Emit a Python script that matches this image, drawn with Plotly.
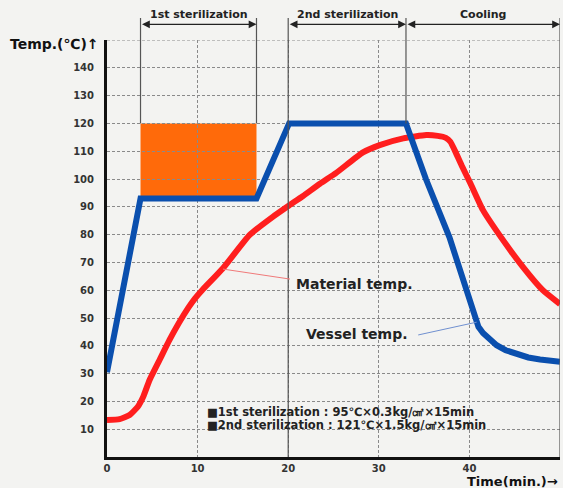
import plotly.graph_objects as go

# ---- data ----
vessel_time = [0, 3.7, 16.5, 20.1, 33.0, 35.2, 37.8, 39.7, 40.6, 41.0, 41.5, 42.2, 43.0, 44.0, 45.2, 46.5, 47.8, 50]
vessel_temp = [30.5, 93, 93, 120, 120, 100, 79, 59, 49.6, 46.8, 44.6, 42.2, 40.2, 38.4, 36.9, 35.8, 35.1, 34.3]

material_time = [0, 1.4, 2.5, 3.4, 4.0, 4.7, 5.8, 6.9, 7.9, 9.0, 9.7, 10.5, 12.8, 15.75, 18.3,
                 20.15, 21.6, 23.5, 25.3, 28.25, 30.1, 32.7, 35.25, 36.5, 37.4, 37.9, 38.5,
                 39.2, 40.1, 41.5, 43.5, 45.9, 48.1, 50]
material_temp = [13.3, 13.6, 15.1, 18.1, 21.7, 27.7, 34.9, 42.1, 48.0, 53.8, 57, 60, 67.9, 79.9, 86.4,
                 90.6, 93.8, 98.3, 102.2, 109.6, 112.2, 114.6, 115.8, 115.5, 114.8, 113.4, 109.5,
                 104.5, 98.5, 88.8, 79, 68.4, 60, 55]

phases = ["1st sterilization", "2nd sterilization", "Cooling"]
phase_start = [3.7, 20.0, 33.0]
phase_end = [16.5, 33.0, 50.0]

hold_box_x = [3.7, 16.5]
hold_box_y = [93, 120]

y_ticks = [10, 20, 30, 40, 50, 60, 70, 80, 90, 100, 110, 120, 130, 140]
x_ticks = [0, 10, 20, 30, 40, 50]

notes = ["■1st sterilization : 95℃×0.3kg/㎠×15min",
         "■2nd sterilization : 121℃×1.5kg/㎠×15min"]

FONT = "DejaVu Sans"
BG = "#f3f3f1"
GRID = "#8a8a8a"

fig = go.Figure()
fig.add_trace(go.Scatter(x=material_time, y=material_temp, mode="lines",
                         line=dict(color="#ff1e1e", width=6, shape="spline", smoothing=0.5),
                         hoverinfo="skip"))
fig.add_trace(go.Scatter(x=vessel_time, y=vessel_temp, mode="lines",
                         line=dict(color="#0a4fae", width=6), hoverinfo="skip"))

shapes = []
shapes.append(dict(type="rect", xref="x", yref="y", x0=hold_box_x[0], x1=hold_box_x[1],
                   y0=hold_box_y[0], y1=hold_box_y[1], fillcolor="#ff6a0a",
                   line=dict(width=0), layer="below"))
shapes.append(dict(type="line", xref="paper", yref="y", x0=0, x1=1, y0=150, y1=150,
                   line=dict(color=GRID, width=1, dash="3px,2px")))
top_p = 1.0528
bracket_lines = [(3.7, 120), (16.5, 120), (20.0, 0), (33.0, 120), (50.0, 0)]
for bx, by in bracket_lines:
    shapes.append(dict(type="line", xref="x", yref="paper", x0=bx, x1=bx,
                       y0=by / 150, y1=top_p, line=dict(color="#555555", width=1.2)))
shapes.append(dict(type="line", xref="x", yref="y", x0=12.8, y0=67.6, x1=20.2, y1=64.0,
                   line=dict(color="#f07a7a", width=1)))
shapes.append(dict(type="line", xref="x", yref="y", x0=34.35, y0=43.9, x1=40.8, y1=48.5,
                   line=dict(color="#7090d0", width=1)))

ann = []
for name, s, e in zip(phases, phase_start, phase_end):
    ann.append(dict(xref="x", yref="paper", x=e, y=1.0376, axref="x", ax=s,
                    ayref="pixel", ay=0, text="", showarrow=True, arrowside="end+start",
                    arrowhead=2, arrowsize=1.3, arrowwidth=1.2, arrowcolor="#222222",
                    standoff=0, startstandoff=0, startarrowhead=2, startarrowsize=1.3))
    ann.append(dict(xref="x", yref="paper", x=(s + e) / 2, y=1.06, text=name,
                    showarrow=False, xanchor="center", yanchor="middle",
                    font=dict(family=FONT, size=11, color="#222222", weight="bold")))

ann.append(dict(xref="x", yref="y", x=20.6, y=62.3, text="Material temp.", showarrow=False,
                xanchor="left", yanchor="middle",
                font=dict(family=FONT, size=14, color="#222222", weight="bold")))
ann.append(dict(xref="x", yref="y", x=21.7, y=44.4, text="Vessel temp.", showarrow=False,
                xanchor="left", yanchor="middle",
                font=dict(family=FONT, size=14, color="#222222", weight="bold")))
for t, yy in zip(notes, [16.3, 11.5]):
    ann.append(dict(xref="x", yref="y", x=10.8, y=yy, text=t, showarrow=False,
                    xanchor="left", yanchor="middle",
                    font=dict(family=FONT, size=11.5, color="#222222", weight="bold")))

ann.append(dict(xref="paper", yref="paper", x=-0.2185, y=0.99, text="Temp.(℃)↑",
                showarrow=False, xanchor="left", yanchor="middle",
                font=dict(family=FONT, size=14, color="#111111", weight="bold")))
ann.append(dict(xref="paper", yref="paper", x=1.0, y=-0.0585, text="Time(min.)→",
                showarrow=False, xanchor="right", yanchor="middle",
                font=dict(family=FONT, size=13, color="#111111", weight="bold")))

fig.update_layout(
    width=563, height=488,
    margin=dict(l=107, r=3, t=40, b=31),
    paper_bgcolor=BG, plot_bgcolor=BG,
    showlegend=False,
    shapes=shapes, annotations=ann,
    xaxis=dict(range=[0, 50], tickvals=x_ticks, ticktext=[str(v) for v in x_ticks],
               showgrid=True, gridcolor=GRID, gridwidth=1, griddash="3px,2px",
               zeroline=False, showline=True, linecolor="#111111", linewidth=3,
               ticks="", tickfont=dict(family=FONT, size=10, color="#333333", weight="bold")),
    yaxis=dict(range=[0, 150], tickvals=y_ticks, ticktext=[str(v) for v in y_ticks],
               showgrid=True, gridcolor=GRID, gridwidth=1, griddash="3px,2px",
               zeroline=False, showline=True, linecolor="#111111", linewidth=3,
               ticks="", ticklabelstandoff=8,
               tickfont=dict(family=FONT, size=10, color="#333333", weight="bold")),
)

fig.write_html("out.html", config={"displayModeBar": False},
               post_script="document.body.style.margin='0px';document.body.style.background='%s';" % BG)
